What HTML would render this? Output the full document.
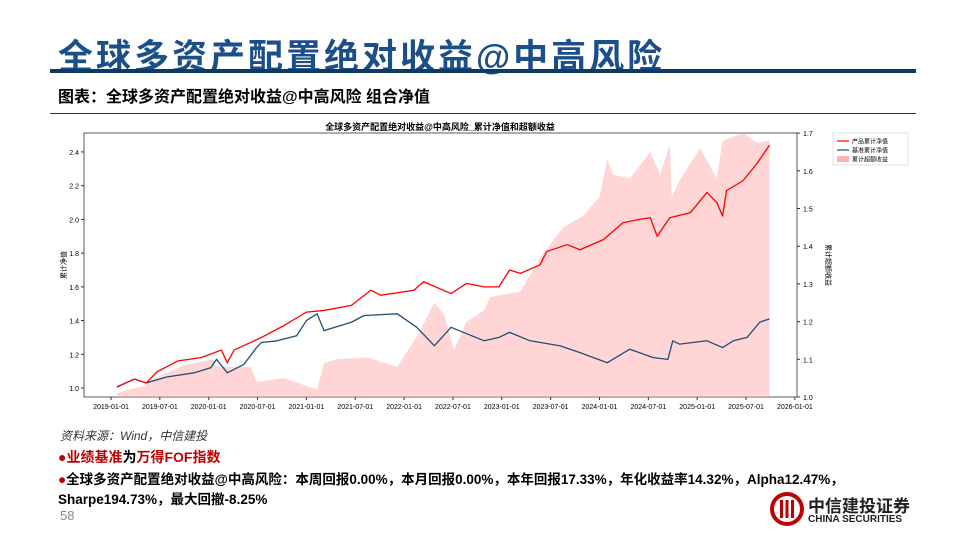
<!DOCTYPE html>
<html><head><meta charset="utf-8"><style>
body{margin:0;width:960px;height:540px;background:#fff;font-family:"Liberation Sans","Noto Sans CJK SC",sans-serif;position:relative;overflow:hidden}
.abs{position:absolute}
</style></head><body>
<div class="abs" style="left:58px;top:29px;font-size:35px;font-weight:bold;color:#1b4f8a;letter-spacing:3px;white-space:nowrap">全球多资产配置绝对收益@中高风险</div>
<div class="abs" style="left:50px;top:69px;width:866px;height:4px;background:#0e3a63"></div>
<div class="abs" style="left:58px;top:83px;font-size:16px;font-weight:bold;color:#000">图表：全球多资产配置绝对收益@中高风险 组合净值</div>
<div class="abs" style="left:50px;top:113px;width:866px;height:1px;background:#0e3a63"></div>
<svg class="abs" style="left:0;top:0" width="960" height="540" id="chart"></svg>
<div class="abs" style="left:60px;top:427px;font-size:12px;font-style:italic;color:#333">资料来源：Wind，中信建投</div>
<div class="abs" style="left:58px;top:447px;font-size:14px;font-weight:bold;color:#000"><span style="color:#c00000">●业绩基准</span>为<span style="color:#c00000">万得FOF指数</span></div>
<div class="abs" style="left:58px;top:470px;font-size:13.5px;font-weight:bold;color:#000;line-height:20px;width:860px"><span style="color:#c00000">●</span>全球多资产配置绝对收益@中高风险：本周回报0.00%，本月回报0.00%，本年回报17.33%，年化收益率14.32%，Alpha12.47%，Sharpe194.73%，最大回撤-8.25%</div>
<div class="abs" style="left:60px;top:508px;font-size:13px;color:#888">58</div>
<div class="abs" style="left:770px;top:490px;width:140px;height:40px">
<svg width="34" height="34" style="position:absolute;left:0;top:2px"><circle cx="17" cy="17" r="15" fill="none" stroke="#c00000" stroke-width="4"/><rect x="10" y="8" width="3" height="18" fill="#c00000"/><rect x="15.5" y="8" width="3" height="18" fill="#c00000"/><rect x="21" y="8" width="3" height="18" fill="#c00000"/></svg>
<div style="position:absolute;left:38px;top:2px;font-size:17px;font-weight:bold;color:#222">中信建投证券</div>
<div style="position:absolute;left:38px;top:24px;font-size:10px;font-weight:bold;color:#222">CHINA SECURITIES</div>
</div>
<script>
const productDates=[2019.06,2019.24,2019.36,2019.47,2019.68,2019.92,2020.13,2020.19,2020.26,2020.54,2020.77,2021.0,2021.18,2021.46,2021.66,2021.76,2022.10,2022.20,2022.48,2022.64,2022.82,2022.97,2023.08,2023.19,2023.39,2023.46,2023.67,2023.80,2024.04,2024.24,2024.41,2024.52,2024.59,2024.72,2024.93,2025.10,2025.20,2025.26,2025.30,2025.47,2025.61,2025.74];
const product=[1.006,1.053,1.03,1.095,1.16,1.18,1.225,1.15,1.225,1.30,1.37,1.45,1.46,1.49,1.58,1.55,1.58,1.63,1.56,1.62,1.60,1.60,1.70,1.68,1.73,1.81,1.85,1.82,1.88,1.98,2.00,2.01,1.90,2.01,2.04,2.16,2.10,2.02,2.17,2.23,2.33,2.44];
const benchDates=[2019.06,2019.24,2019.36,2019.57,2019.85,2020.02,2020.08,2020.19,2020.36,2020.49,2020.54,2020.70,2020.90,2021.0,2021.11,2021.18,2021.46,2021.59,2021.93,2022.13,2022.31,2022.48,2022.82,2022.97,2023.08,2023.29,2023.60,2023.80,2024.08,2024.31,2024.55,2024.70,2024.75,2024.82,2025.10,2025.26,2025.37,2025.51,2025.64,2025.74];
const bench=[1.006,1.053,1.03,1.065,1.09,1.12,1.17,1.09,1.14,1.24,1.27,1.28,1.31,1.40,1.44,1.34,1.39,1.43,1.44,1.36,1.25,1.36,1.28,1.30,1.33,1.28,1.25,1.21,1.15,1.23,1.18,1.17,1.28,1.26,1.28,1.24,1.28,1.30,1.39,1.41];
const excessDates=[2019.06,2019.34,2019.41,2019.75,2020.05,2020.08,2020.43,2020.49,2020.77,2021.11,2021.18,2021.31,2021.62,2021.93,2022.13,2022.31,2022.41,2022.51,2022.64,2022.82,2022.88,2023.19,2023.42,2023.63,2023.83,2024.00,2024.08,2024.14,2024.31,2024.52,2024.62,2024.72,2024.74,2024.82,2025.03,2025.20,2025.26,2025.47,2025.61,2025.74];
const excess=[1.01,1.03,1.045,1.085,1.10,1.08,1.08,1.04,1.05,1.02,1.09,1.10,1.105,1.08,1.16,1.25,1.22,1.125,1.20,1.23,1.265,1.28,1.38,1.45,1.48,1.53,1.63,1.59,1.58,1.65,1.59,1.67,1.53,1.575,1.66,1.58,1.68,1.70,1.675,1.68];
const leftTicks=[1.0,1.2,1.4,1.6,1.8,2.0,2.2,2.4];
const rightTicks=[1.0,1.1,1.2,1.3,1.4,1.5,1.6,1.7];
const xTicks=["2019-01","2019-07","2020-01","2020-07","2021-01","2021-07","2022-01","2022-07","2023-01","2023-07","2024-01","2024-07","2025-01","2025-07","2026-01"];
const svg=document.getElementById('chart');const NS='http://www.w3.org/2000/svg';
function mk(t,a,p){const e=document.createElementNS(NS,t);for(const k in a)e.setAttribute(k,a[k]);(p||svg).appendChild(e);return e;}
function tnum(s){const [y,m]=s.split('-').map(Number);return y+(m-1)/12;}
const XT=t=>111+(t-2019)*97.7;
const X=s=>XT(tnum(s));
const YL=v=>388-(v-1.0)*168.6;
const YR=v=>397-(v-1.0)*377;
const L=84,R=797,T=133,B=397;
let frame=mk('rect',{x:L,y:T,width:R-L,height:B-T,fill:'none',stroke:'#333','stroke-width':0.8});

let t=mk('text',{x:440,y:130,'font-size':9,'font-weight':'bold','text-anchor':'middle'});t.textContent='全球多资产配置绝对收益@中高风险_累计净值和超额收益';

const n=Math.min(excessDates.length,excess.length);
let d='M'+XT(excessDates[0])+','+YR(1.0);for(let i=0;i<n;i++)d+=' L'+XT(excessDates[i])+','+YR(excess[i]);d+=' L'+XT(excessDates[n-1])+','+YR(1.0)+'Z';
let a=mk('path',{d:d,fill:'#ffb3b3','fill-opacity':0.55,stroke:'none'});
function line(ds,arr,c,nm){const m=Math.min(ds.length,arr.length);let pts=[];for(let i=0;i<m;i++)pts.push(XT(ds[i])+','+YL(arr[i]));let p=mk('polyline',{points:pts.join(' '),fill:'none',stroke:c,'stroke-width':1.3,'stroke-linejoin':'round'});}
line(benchDates,bench,'#1f4e79','benchmark-line');line(productDates,product,'#ff0000','product-line');
leftTicks.forEach(v=>{let y=YL(v);mk('line',{x1:L-3,x2:L,y1:y,y2:y,stroke:'#333'});let e=mk('text',{x:L-5,y:y+3,'font-size':7,'text-anchor':'end'});e.textContent=v.toFixed(1);});
rightTicks.forEach(v=>{let y=YR(v);mk('line',{x1:R,x2:R+3,y1:y,y2:y,stroke:'#333'});let e=mk('text',{x:R+6,y:y+3,'font-size':7});e.textContent=v.toFixed(1);});
xTicks.forEach(s=>{let x=X(s);mk('line',{x1:x,x2:x,y1:B,y2:B+3,stroke:'#333'});let e=mk('text',{x:x,y:B+12,'font-size':7,'text-anchor':'middle'});e.textContent=s+'-01';});
let yl=mk('text',{x:66,y:265,'font-size':7,'text-anchor':'middle',transform:'rotate(-90 66 265)'});yl.textContent='累计净值';
let yr=mk('text',{x:826,y:265,'font-size':7,'text-anchor':'middle',transform:'rotate(90 826 265)'});yr.textContent='累计超额收益';
let lg=mk('rect',{x:833,y:133,width:75,height:32,fill:'#fff',stroke:'#ccc','stroke-width':0.6});
[['产品累计净值','#ff0000','line'],['基准累计净值','#1f4e79','line'],['累计超额收益','#ffb3b3','box']].forEach((it,i)=>{let y=141+i*9;
if(it[2]=='line')mk('line',{x1:837,x2:849,y1:y,y2:y,stroke:it[1],'stroke-width':1.2});else mk('rect',{x:837,y:y-3,width:12,height:6,fill:it[1]});
let e=mk('text',{x:852,y:y+2.5,'font-size':6});e.textContent=it[0];});
</script>
</body></html>
